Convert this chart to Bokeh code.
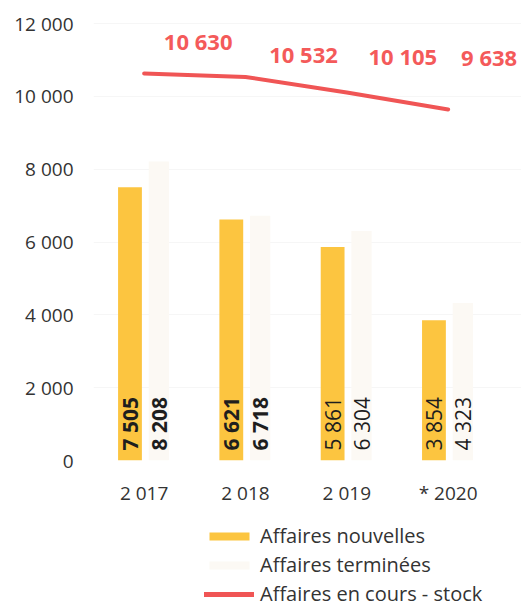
import math
from bokeh.plotting import figure
from bokeh.layouts import column
from bokeh.models import ColumnDataSource, Range1d, FixedTicker, Legend, LegendItem
from bokeh.transform import dodge
from bokeh.core.properties import value
from bokeh.embed import file_html
from bokeh.resources import INLINE

# ---- data ----
years = ["2 017", "2 018", "2 019", "* 2020"]
nouvelles = [7505, 6621, 5861, 3854]
terminees = [8208, 6718, 6304, 4323]
stock = [10630, 10532, 10105, 9638]
y_ticks = [0, 2000, 4000, 6000, 8000, 10000, 12000]
y_tick_labels = ["0", "2 000", "4 000", "6 000", "8 000", "10 000", "12 000"]
legend_labels = ["Affaires nouvelles", "Affaires terminées",
                 "Affaires en cours - stock"]

# ---- styles ----
YELLOW = "#fcc540"
PALE = "#fcf9f4"
RED = "#f05555"
RED_TXT = "#f45a5a"
FONT = "Open Sans"
value_styles = ["bold", "bold", "normal", "normal"]
stock_dx = [54, 58, 56, 41]
stock_dy = [-32, -23, -37, -53]


def fmt(v):
    return f"{v:,}".replace(",", " ")


idx = list(range(1, len(years) + 1))

p = figure(width=521, height=515, output_backend="svg", toolbar_location=None,
           x_range=Range1d(0.5, 4.724), y_range=Range1d(0, 12412),
           min_border_left=93, min_border_right=0, min_border_top=8,
           min_border_bottom=55)
p.outline_line_color = None
p.background_fill_color = "white"
p.xgrid.visible = False
p.ygrid.grid_line_color = "#f6f6f6"
p.ygrid.ticker = FixedTicker(ticks=y_ticks)

src_n = ColumnDataSource(dict(x=idx, top=nouvelles,
                              label=[fmt(v) for v in nouvelles],
                              style=value_styles))
src_t = ColumnDataSource(dict(x=idx, top=terminees,
                              label=[fmt(v) for v in terminees],
                              style=value_styles))
src_s = ColumnDataSource(dict(x=idx, y=stock, label=[fmt(v) for v in stock],
                              dx=stock_dx, dy=stock_dy))

p.vbar(x=dodge("x", -0.14, range=p.x_range), top="top", bottom=0,
       width=0.235, source=src_n, fill_color=YELLOW, line_color=None)
p.vbar(x=dodge("x", 0.145, range=p.x_range), top="top", bottom=0,
       width=0.2, source=src_t, fill_color=PALE, line_color=None)

for src, off in ((src_n, -0.14), (src_t, 0.145)):
    p.text(x=dodge("x", off, range=p.x_range), y=0, text="label", source=src,
           angle=math.pi / 2, text_align="left", text_baseline="middle",
           y_offset=-10, text_font=value(FONT), text_font_size="21px",
           text_font_style="style", text_color="#1e1e1e")

p.line(x="x", y="y", source=src_s, line_color=RED, line_width=4,
       line_cap="round")
p.text(x="x", y="y", text="label", source=src_s, x_offset="dx", y_offset="dy",
       text_align="center", text_baseline="middle", text_font=value(FONT),
       text_font_size="22px", text_font_style="bold", text_color=RED_TXT)

# axes
for ax in (p.xaxis[0], p.yaxis[0]):
    ax.axis_line_color = None
    ax.major_tick_line_color = None
    ax.minor_tick_line_color = None
    ax.major_label_text_font = FONT
    ax.major_label_text_font_size = "19px"
    ax.major_label_text_color = "#333333"

p.xaxis.ticker = FixedTicker(ticks=idx)
p.xaxis.major_label_overrides = {i: y for i, y in zip(idx, years)}
p.xaxis.major_label_standoff = 13
p.yaxis.ticker = FixedTicker(ticks=y_ticks)
p.yaxis.major_label_overrides = {t: l for t, l in zip(y_ticks, y_tick_labels)}
p.yaxis.major_label_standoff = 14

# ---- legend panel (proxy renderers kept outside the visible range) ----
q = figure(width=521, height=92, output_backend="svg", toolbar_location=None,
           x_range=Range1d(-20, -19), y_range=Range1d(-20, -19),
           x_axis_location=None, y_axis_location=None,
           min_border_left=93, min_border_right=0, min_border_top=0,
           min_border_bottom=0)
q.outline_line_color = None
q.grid.visible = False
ln = q.vbar(x="x", top="top", width=0.2, source=src_n, fill_color=YELLOW,
            line_color=None)
lt = q.vbar(x="x", top="top", width=0.2, source=src_t, fill_color=PALE,
            line_color=None)
ls = q.line(x="x", y="y", source=src_s, line_color=RED, line_width=5,
            line_cap="round")
legend = Legend(items=[LegendItem(label=lab, renderers=[r])
                       for lab, r in zip(legend_labels, (ln, lt, ls))],
                location=(111, 0), orientation="vertical", glyph_width=50,
                glyph_height=10, label_standoff=6, label_text_font=FONT,
                label_text_font_size="20px", label_text_color="#333333",
                label_height=22, spacing=2, padding=0, margin=0,
                border_line_color=None, background_fill_alpha=0)
q.add_layout(legend, "center")

open("out.html", "w").write(file_html(column(p, q, spacing=0), INLINE))
